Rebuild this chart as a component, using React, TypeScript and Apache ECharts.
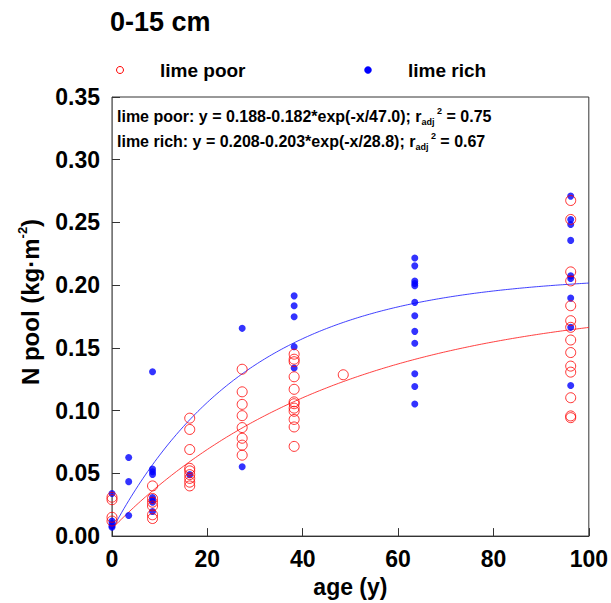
import React, { useEffect, useRef } from "react";
import * as echarts from "echarts";

const FONT = 'Arial, "Liberation Sans", Helvetica, sans-serif';

// ---- data ----
const titleText = "0-15 cm";
const seriesNames = ["lime poor", "lime rich"];
const xTickValues = [0, 20, 40, 60, 80, 100];
const yTickValues = [0, 0.05, 0.1, 0.15, 0.2, 0.25, 0.3, 0.35];

const poorAges = [
  0, 0, 0, 0,
  8.5, 8.5, 8.5, 8.5, 8.5, 8.5,
  16.3, 16.3, 16.3, 16.3, 16.3, 16.3, 16.3, 16.3, 16.3,
  27.3, 27.3, 27.3, 27.3, 27.3, 27.3, 27.3, 27.3,
  38.2, 38.2, 38.2, 38.2, 38.2, 38.2, 38.2, 38.2, 38.2, 38.2, 38.2, 38.2,
  48.5,
  96.2, 96.2, 96.2, 96.2, 96.2, 96.2, 96.2, 96.2, 96.2, 96.2, 96.2, 96.2, 96.2, 96.2,
];
const poorValues = [
  0.031, 0.029, 0.015, 0.012,
  0.040, 0.030, 0.027, 0.024, 0.017, 0.014,
  0.094, 0.085, 0.069, 0.054, 0.052, 0.049, 0.046, 0.043, 0.040,
  0.133, 0.115, 0.105, 0.096, 0.0865, 0.078, 0.0725, 0.0645,
  0.145, 0.141, 0.139, 0.127, 0.117, 0.107, 0.1055, 0.102, 0.0995, 0.093, 0.087, 0.0715,
  0.1286,
  0.2675, 0.2524, 0.2106, 0.2034, 0.1836, 0.1717, 0.1664, 0.1563, 0.1463, 0.1355, 0.1307, 0.1103, 0.0958, 0.0944,
];

const richAges = [
  0, 0, 0, 0, 0,
  3.5, 3.5, 3.5,
  8.5, 8.5, 8.5, 8.5, 8.5, 8.5, 8.5, 8.5,
  16.3,
  27.3, 27.3,
  38.2, 38.2, 38.2, 38.2, 38.2,
  63.5, 63.5, 63.5, 63.5, 63.5, 63.5, 63.5, 63.5, 63.5, 63.5, 63.5, 63.5,
  96.2, 96.2, 96.2, 96.2, 96.2, 96.2, 96.2, 96.2, 96.2,
];
const richValues = [
  0.034, 0.012, 0.010, 0.008, 0.007,
  0.0627, 0.0434, 0.0164,
  0.131, 0.0534, 0.0513, 0.0492, 0.0307, 0.0288, 0.027, 0.0196,
  0.049,
  0.1656, 0.0553,
  0.1915, 0.1836, 0.1748, 0.151, 0.134,
  0.2217, 0.2154, 0.2034, 0.2013, 0.1995, 0.1863, 0.1757, 0.1632, 0.1537, 0.1294, 0.1193, 0.1053,
  0.271, 0.2524, 0.2484, 0.2357, 0.2074, 0.2053, 0.1897, 0.1664, 0.12,
];

// fitted model parameters printed on the chart: y = a - b*exp(-x/tau)
const poorFit = [0.188, 0.182, 47.0];
const richFit = [0.208, 0.203, 28.8];
const fitR2 = [0.75, 0.67];

function curve(fit: number[]) {
  const pts: number[][] = [];
  for (let x = 0; x <= 100; x += 0.5) {
    pts.push([x, fit[0] - fit[1] * Math.exp(-x / fit[2])]);
  }
  return pts;
}

function eqText(name: string, fit: number[], r2: number) {
  return (
    name +
    ": y = " +
    fit[0].toFixed(3) +
    "-" +
    fit[1].toFixed(3) +
    "*exp(-x/" +
    fit[2].toFixed(1) +
    "); r{sub|adj}{sup| 2}{n| = " +
    r2.toFixed(2) +
    "}"
  );
}

export default function App() {
  const ref = useRef<HTMLDivElement>(null);
  useEffect(() => {
    if (!ref.current) return;
    const chart = echarts.init(ref.current, undefined, { renderer: "svg" });
    const poorData = poorAges.map((a, i) => [a, poorValues[i]]);
    const richData = richAges.map((a, i) => [a, richValues[i]]);
    const eqRich = {
      sub: { fontSize: 9, fontWeight: "bold", fontFamily: FONT, verticalAlign: "bottom", lineHeight: 20 },
      sup: { fontSize: 9, fontWeight: "bold", fontFamily: FONT, verticalAlign: "top", lineHeight: 20 },
      n: { fontSize: 16, fontWeight: "bold", fontFamily: FONT, lineHeight: 20 },
    };
    chart.setOption({
      animation: false,
      backgroundColor: "#ffffff",
      textStyle: { fontFamily: FONT },
      grid: {
        left: 112,
        top: 97,
        right: 15,
        bottom: 65,
        show: true,
        borderColor: "#333",
        borderWidth: 1,
        backgroundColor: "transparent",
      },
      xAxis: {
        type: "value",
        min: xTickValues[0],
        max: xTickValues[xTickValues.length - 1],
        interval: 20,
        name: "age (y)",
        nameLocation: "middle",
        nameGap: 35,
        nameTextStyle: { fontSize: 23, fontWeight: "bold", color: "#000", fontFamily: FONT },
        axisLine: { show: true, lineStyle: { color: "#333", width: 1 } },
        axisTick: { show: true, inside: true, length: 8, lineStyle: { color: "#333" } },
        axisLabel: { fontSize: 23, fontWeight: "bold", color: "#000", margin: 11, fontFamily: FONT },
        splitLine: { show: false },
      },
      yAxis: {
        type: "value",
        min: yTickValues[0],
        max: yTickValues[yTickValues.length - 1],
        interval: 0.05,
        axisLine: { show: true, lineStyle: { color: "#777", width: 1 } },
        axisTick: { show: true, inside: true, length: 8, lineStyle: { color: "#333" } },
        axisLabel: {
          fontSize: 23,
          fontWeight: "bold",
          color: "#000",
          margin: 12,
          fontFamily: FONT,
          formatter: (v: number) => v.toFixed(2),
        },
        splitLine: { show: false },
      },
      series: [
        {
          name: seriesNames[0] + " fit",
          type: "line",
          data: curve(poorFit),
          showSymbol: false,
          lineStyle: { color: "#ff2020", width: 1, opacity: 0.85 },
          z: 2,
        },
        {
          name: seriesNames[1] + " fit",
          type: "line",
          data: curve(richFit),
          showSymbol: false,
          lineStyle: { color: "#2020ff", width: 1, opacity: 0.85 },
          z: 2,
        },
        {
          name: seriesNames[1],
          type: "scatter",
          data: richData,
          symbol: "circle",
          symbolSize: 7,
          itemStyle: { color: "#0000ff" },
          z: 3,
        },
        {
          name: seriesNames[0],
          type: "scatter",
          data: poorData,
          symbol: "circle",
          symbolSize: 10,
          itemStyle: { color: "rgba(255,255,255,0)", borderColor: "#ff0000", borderWidth: 1, opacity: 0.8 },
          z: 4,
        },
      ],
      graphic: [
        {
          type: "text",
          left: 110,
          top: 8,
          style: { text: titleText, fontSize: 27, fontWeight: "bold", fill: "#000", fontFamily: FONT },
        },
        {
          type: "circle",
          shape: { cx: 120, cy: 70, r: 3.5 },
          style: { fill: "#fff", stroke: "#ff0000", lineWidth: 1 },
        },
        {
          type: "text",
          x: 160,
          y: 70,
          style: {
            text: seriesNames[0],
            fontSize: 19,
            fontWeight: "bold",
            fill: "#000",
            fontFamily: FONT,
            verticalAlign: "middle",
          },
        },
        {
          type: "circle",
          shape: { cx: 368, cy: 70, r: 3.5 },
          style: { fill: "#0000ff", stroke: "#0000ff", lineWidth: 0.5 },
        },
        {
          type: "text",
          x: 408,
          y: 70,
          style: {
            text: seriesNames[1],
            fontSize: 19,
            fontWeight: "bold",
            fill: "#000",
            fontFamily: FONT,
            verticalAlign: "middle",
          },
        },
        {
          type: "text",
          x: 117,
          y: 116,
          z: 10,
          style: {
            text: eqText(seriesNames[0], poorFit, fitR2[0]),
            fontSize: 16,
            fontWeight: "bold",
            fill: "#000",
            fontFamily: FONT,
            verticalAlign: "middle",
            lineHeight: 20,
            rich: eqRich,
          },
        },
        {
          type: "text",
          x: 117,
          y: 141,
          z: 10,
          style: {
            text: eqText(seriesNames[1], richFit, fitR2[1]),
            fontSize: 16,
            fontWeight: "bold",
            fill: "#000",
            fontFamily: FONT,
            verticalAlign: "middle",
            lineHeight: 20,
            rich: eqRich,
          },
        },
        {
          type: "text",
          x: 30,
          y: 302,
          rotation: Math.PI / 2,
          style: {
            text: "{a|N pool (kg·m}{s|-2}{a|)}",
            align: "center",
            verticalAlign: "middle",
            fill: "#000",
            rich: {
              a: { fontSize: 24, fontWeight: "bold", fontFamily: FONT, lineHeight: 28 },
              s: { fontSize: 13, fontWeight: "bold", fontFamily: FONT, verticalAlign: "top", lineHeight: 28 },
            },
          },
        },
      ],
    });
    return () => chart.dispose();
  }, []);
  return (
    <div
      ref={ref}
      style={{ position: "fixed", left: 0, top: 0, width: 611, height: 603, background: "#fff" }}
    />
  );
}
